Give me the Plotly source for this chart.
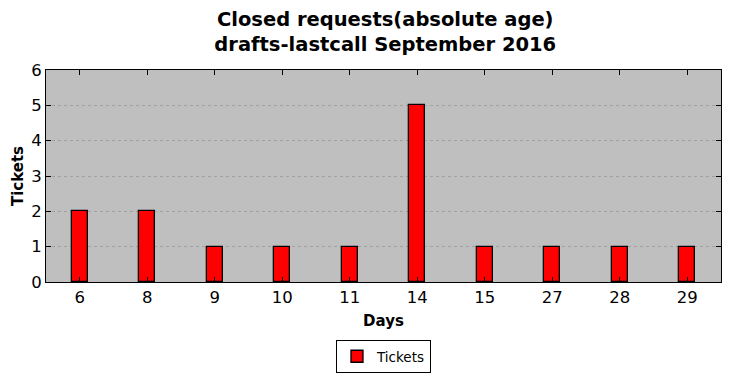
import plotly.graph_objects as go

days = ["6", "8", "9", "10", "11", "14", "15", "27", "28", "29"]
tickets = [2, 2, 1, 1, 1, 5, 1, 1, 1, 1]

fig = go.Figure()
fig.add_trace(go.Bar(
    x=days, y=tickets, name="Tickets",
    marker=dict(color="#ff0000", line=dict(color="black", width=1.3)),
    width=0.24,
))

fig.update_layout(
    width=731, height=378,
    margin=dict(l=46, r=10, t=70, b=96, autoexpand=False),
    paper_bgcolor="white",
    plot_bgcolor="#bfbfbf",
    font=dict(family="DejaVu Sans", color="black"),
    title=dict(
        text="<b>Closed requests(absolute age)<br>drafts-lastcall September 2016</b>",
        x=0.527, xanchor="center", xref="container",
        y=1 - 26 / 378, yanchor="middle", yref="container",
        font=dict(size=19.5),
    ),
    showlegend=True,
    legend=dict(
        orientation="h", x=0.5246, xanchor="center", xref="container",
        y=1 - 340 / 378, yanchor="top", yref="container",
        bordercolor="black", borderwidth=1, font=dict(size=13.5),
        bgcolor="white",
    ),
    bargap=0,
)
fig.update_xaxes(
    type="category", range=[-0.5, 9.5], automargin=False,
    showline=True, linecolor="black", linewidth=1, mirror="allticks",
    ticks="inside", ticklen=5, tickcolor="black",
    tickfont=dict(size=16.5),
    title=dict(text="<b>Days</b>", font=dict(size=15), standoff=9),
    showgrid=False,
)
fig.update_yaxes(
    range=[0, 6], dtick=1, automargin=False,
    showline=True, linecolor="black", linewidth=1, mirror="allticks",
    ticks="inside", ticklen=5, tickcolor="black",
    tickfont=dict(size=16.5),
    title=dict(text="<b>Tickets</b>", font=dict(size=15), standoff=3),
    showgrid=True, gridcolor="#a0a0a0", griddash="dot", gridwidth=1,
    zeroline=False,
)

fig.write_html(
    "out.html",
    config={"displayModeBar": False},
    post_script="document.body.style.margin='0';",
)
